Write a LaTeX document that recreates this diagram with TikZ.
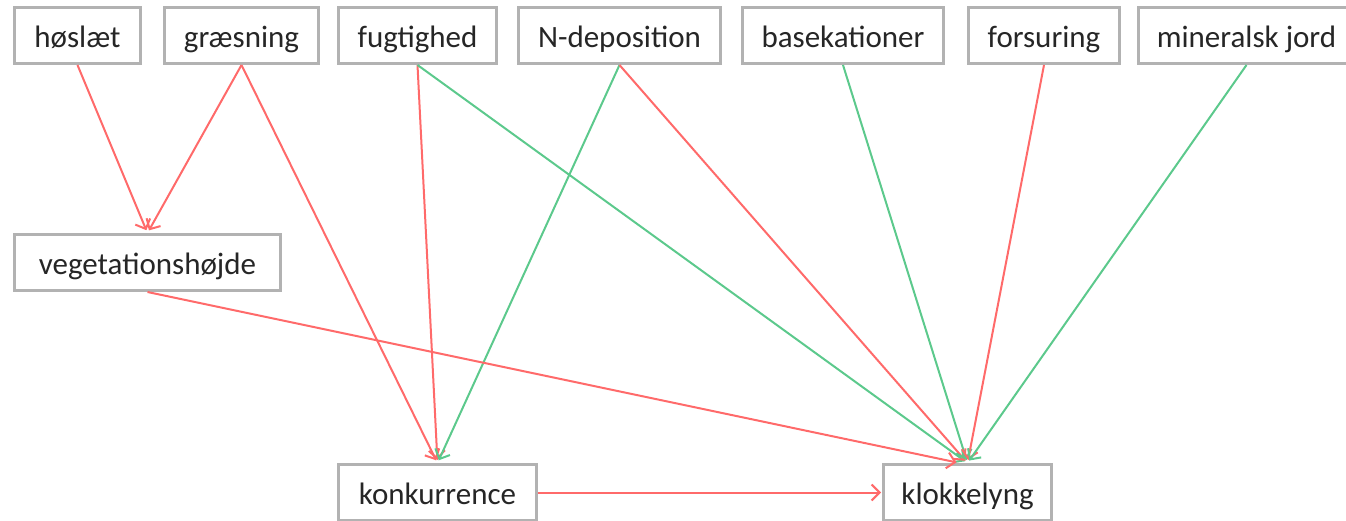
\documentclass[tikz,border=0pt]{standalone}
\usepackage{fontspec}
\setmainfont{Carlito}
\usetikzlibrary{arrows.meta}
\definecolor{boxline}{HTML}{B2B2B2}
\definecolor{neg}{HTML}{FF6A6A}
\definecolor{pos}{HTML}{5CC98C}
\definecolor{txt}{HTML}{262626}
\begin{document}
\begin{tikzpicture}[x=1pt,y=-1pt,
  box/.style={draw=boxline, line width=3pt, fill=white, minimum height=56pt,
    inner sep=0pt, text height=30pt, text depth=6pt, text=txt,
    font=\fontsize{31}{36}\selectfont},
  link/.style={line width=2pt, -{Straight Barb[length=8pt,width=16pt,line width=2pt]}, shorten >=3pt},
  negl/.style={link, draw=neg},
  posl/.style={link, draw=pos}]
\useasboundingbox (0,0) rectangle (1346,520);
% top row of drivers
\node[box, minimum width=126pt] (hos)  at (77.5,35.5)   {høslæt};
\node[box, minimum width=154pt] (gra)  at (241.5,35.5)  {græsning};
\node[box, minimum width=158pt] (fug)  at (417.5,35.5)  {fugtighed};
\node[box, minimum width=202pt] (ndep) at (619.5,35.5)  {N-deposition};
\node[box, minimum width=201pt] (bas)  at (843,35.5)    {basekationer};
\node[box, minimum width=151pt] (for)  at (1044,35.5)   {forsuring};
\node[box, minimum width=216pt] (min)  at (1246.5,35.5) {mineralsk jord};
% intermediate and response variables
\node[box, minimum width=266pt] (veg)  at (147.5,262.5) {vegetationshøjde};
\node[box, minimum width=198pt] (kon)  at (437.5,492.5) {konkurrence};
\node[box, minimum width=168pt] (klo)  at (967.5,492.5) {klokkelyng};
% effects: red negative, green positive
\draw[negl] (hos.south) -- (veg.north);
\draw[negl] (gra.south) -- (veg.north);
\draw[negl] (gra.south) -- (kon.north);
\draw[negl] (fug.south) -- (kon.north);
\draw[posl] (fug.south) -- (klo.north);
\draw[posl] (ndep.south) -- (kon.north);
\draw[negl] (ndep.south) -- (klo.north);
\draw[posl] (bas.south) -- (klo.north);
\draw[negl] (for.south) -- (klo.north);
\draw[posl] (min.south) -- (klo.north);
\draw[negl] (veg.south) -- ([xshift=-8pt]klo.north);
\draw[negl, shorten >=1pt] (kon.east) -- (klo.west);
\end{tikzpicture}
\end{document}
